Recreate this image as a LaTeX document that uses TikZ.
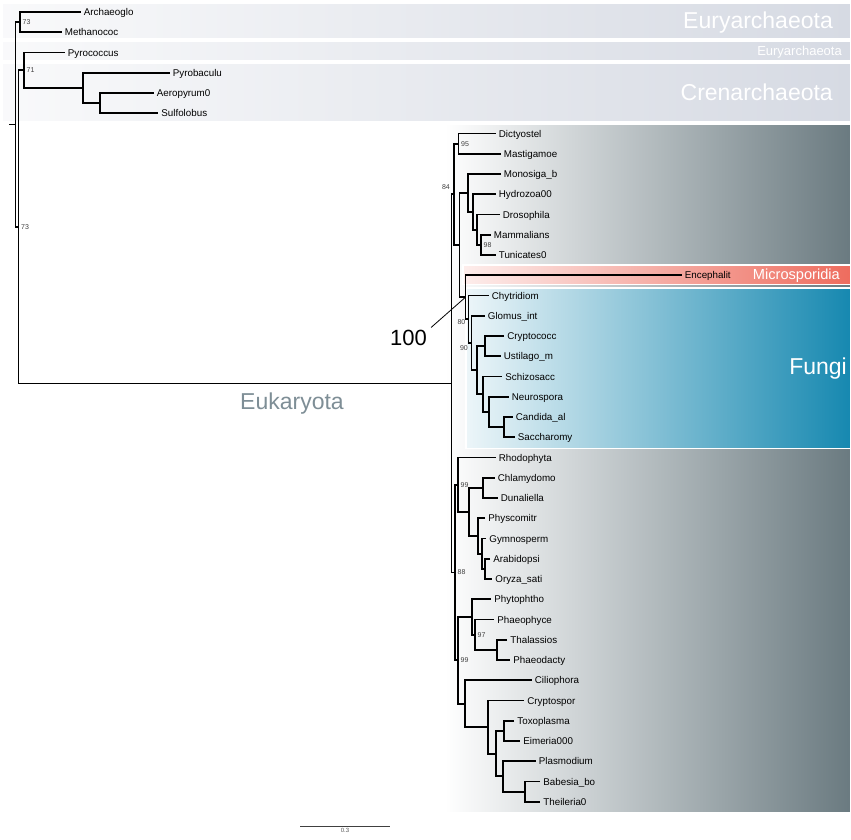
\documentclass[tikz,border=0pt]{standalone}
\usepackage{fontspec}
\setmainfont{Liberation Sans}

\definecolor{archgray}{RGB}{214,218,227}
\definecolor{eukslate}{RGB}{106,122,128}
\definecolor{microred}{RGB}{238,108,94}
\definecolor{fungblue}{RGB}{22,136,176}
\definecolor{eukgray}{RGB}{126,142,150}

\begin{document}
\begin{tikzpicture}[x=1pt, y=-1pt,
    leaf/.style={anchor=west, inner xsep=3.2pt, inner ysep=0pt, text height=8pt, text depth=1pt, font=\fontsize{9.8}{11}\selectfont},
    branch/.style={line width=1.9pt, black},
    boot/.style={anchor=west, inner sep=0.5pt, text=black!75, font=\fontsize{7}{8}\selectfont},
    clade/.style={inner sep=0pt, text=white, font=\fontsize{23}{26}\selectfont},
    band/.style={draw=white, line width=1.2pt}]

    \useasboundingbox (0,0) rectangle (851,839);
    \fill[white] (0,0) rectangle (851,839);

    % Draw the coloured bands behind the clades
    \shade[band, left color=archgray!15, right color=archgray] (2,3) rectangle (851,38.5);
    \shade[band, left color=archgray!15, right color=archgray] (2,41.5) rectangle (851,61);
    \shade[band, left color=archgray!15, right color=archgray] (2,63.5) rectangle (851,122);
    \shade[band, left color=white, right color=eukslate] (445,124.5) rectangle (851,813);
    \shade[band, left color=microred!12, right color=microred] (463,265) rectangle (851,284.5);
    \shade[band, left color=fungblue!8, right color=fungblue] (466,288) rectangle (851,448.5);

    % Draw the leaves, one row each
    \foreach \x/\row/\name in {80.5/0/Archaeoglo, 61.5/1/Methanococ, 64.5/2/Pyrococcus,
        169.5/3/Pyrobaculu, 153.5/4/Aeropyrum0, 158/5/Sulfolobus,
        495.5/6/Dictyostel, 500.5/7/Mastigamoe, 500.5/8/Monosiga\_b, 495.5/9/Hydrozoa00,
        499.5/10/Drosophila, 490.5/11/Mammalians, 495.5/12/Tunicates0, 681.5/13/Encephalit,
        488.5/14/Chytridiom, 484.5/15/Glomus\_int, 504/16/Cryptococc, 500.5/17/Ustilago\_m,
        502/18/Schizosacc, 508.5/19/Neurospora, 512.5/20/Candida\_al, 514.5/21/Saccharomy,
        495.5/22/Rhodophyta, 494.5/23/Chlamydomo, 497.5/24/Dunaliella, 485/25/Physcomitr,
        486/26/Gymnosperm, 490/27/Arabidopsi, 492/28/Oryza\_sati, 491/29/Phytophtho,
        494/30/Phaeophyce, 507/31/Thalassios, 510/32/Phaeodacty, 531.5/33/Ciliophora,
        524/34/Cryptospor, 514/35/Toxoplasma, 520/36/Eimeria000, 535.5/37/Plasmodium,
        540/38/Babesia\_bo, 540/39/Theileria0} {
        \node[leaf] (leaf\row) at (\x, {12+20.25*\row}) {\name};
    }

    % Internal nodes of the tree
    \foreach \p/\x/\y in {root/15.5/124.5, nAM/20/22.1, nB/18.5/226.9, nPC/24/70.2,
        nCren/83/87.9, nAS/100/103.1, nEuk/451.5/383.5, n84/454/194.4, nDM/458.5/143.6,
        nOF/459.5/245.1, nMono/468/193, nHyd/473/212, nDro/477/229.7, nMT/481/244.9,
        nMF/465.5/297.2, nFun/468.5/319.2, nGlo/471.5/343, nDik/477/370.2, nBas/485/346.1,
        nAsc/483/394.2, nNeu/489/411.9, nCS/504/427.1, nPCh/455/572.5, nPla/458/484.7,
        nGreen/469/511.9, nCD/483/487.9, nLand/478/536, nGym/482/553.7, nAO/485/568.9,
        nChrom/458/660.3, nStr/472/617, nPh/475/634.7, nTP/497/649.9, nAlv/465/703.7,
        nApi/488/727.1, nCoc/496/753.7, nTE/504/730.9, nHae/503/776.4, nBT/525/791.6} {
        \coordinate (\p) at (\x,\y);
    }
    \coordinate (rootstub) at (9,124.5);

    % Draw the branches: each clade joins its two children
    \draw[branch] (rootstub) -- (root);
    \foreach \p/\a/\b in {root/nAM/nB, nAM/leaf0/leaf1, nB/nPC/nEuk, nPC/leaf2/nCren,
        nCren/leaf3/nAS, nAS/leaf4/leaf5, nEuk/n84/nPCh, n84/nDM/nOF, nDM/leaf6/leaf7,
        nOF/nMono/nMF, nMono/leaf8/nHyd, nHyd/leaf9/nDro, nDro/leaf10/nMT, nMT/leaf11/leaf12,
        nMF/leaf13/nFun, nFun/leaf14/nGlo, nGlo/leaf15/nDik, nDik/nBas/nAsc,
        nBas/leaf16/leaf17, nAsc/leaf18/nNeu, nNeu/leaf19/nCS, nCS/leaf20/leaf21,
        nPCh/nPla/nChrom, nPla/leaf22/nGreen, nGreen/nCD/nLand, nCD/leaf23/leaf24,
        nLand/leaf25/nGym, nGym/leaf26/nAO, nAO/leaf27/leaf28, nChrom/nStr/nAlv,
        nStr/leaf29/nPh, nPh/leaf30/nTP, nTP/leaf31/leaf32, nAlv/leaf33/nApi,
        nApi/leaf34/nCoc, nCoc/nTE/nHae, nTE/leaf35/leaf36, nHae/leaf37/nBT,
        nBT/leaf38/leaf39} {
        \draw[branch] (\a) -| (\p) |- (\b);
    }

    % Bootstrap values
    \foreach \n/\v in {nAM/73, nB/73, nPC/71, nDM/95, nMT/98, nPla/99, nPCh/88, nPh/97, nChrom/99} {
        \node[boot] (b\n) at ([xshift=2pt]\n) {\v};
    }
    \node[boot, anchor=east] (bn84) at ([shift={(-3.5,-7)}]n84) {84};
    \node[boot, anchor=east] (bnFun) at ([shift={(-2.5,3.3)}]nFun) {80};
    \node[boot, anchor=east] (bnGlo) at ([shift={(-3,5)}]nGlo) {90};

    % Big support value with its pointer
    \node[inner xsep=4pt, inner ysep=2pt, font=\fontsize{22}{24}\selectfont] (b100) at (408.5,337.5) {100};
    \draw[line width=0.8pt] (b100.north east) -- (nMF);

    % Clade names
    \node[clade, anchor=east] (lEury) at (833,22.5) {Euryarchaeota};
    \node[clade, anchor=east, font=\fontsize{13}{15}\selectfont] (lEurySmall) at (842,51.7) {Euryarchaeota};
    \node[clade, anchor=east] (lCren) at (833,92.5) {Crenarchaeota};
    \node[clade, anchor=east, font=\fontsize{14.6}{16}\selectfont] (lMicro) at (840,275.7) {Microsporidia};
    \node[clade, anchor=east] (lFungi) at (847,369) {Fungi};
    \node[clade, text=eukgray] (lEuk) at (292,404) {Eukaryota};

    % Scale bar
    \coordinate (sbL) at (300,826.5);
    \coordinate (sbR) at (390,826.5);
    \draw[line width=0.8pt, black!75] (sbL) -- (sbR) node[midway, below=1.5pt, inner sep=0pt, text=black!65, font=\fontsize{6}{7}\selectfont] (sbText) {0.3};
\end{tikzpicture}
\end{document}
